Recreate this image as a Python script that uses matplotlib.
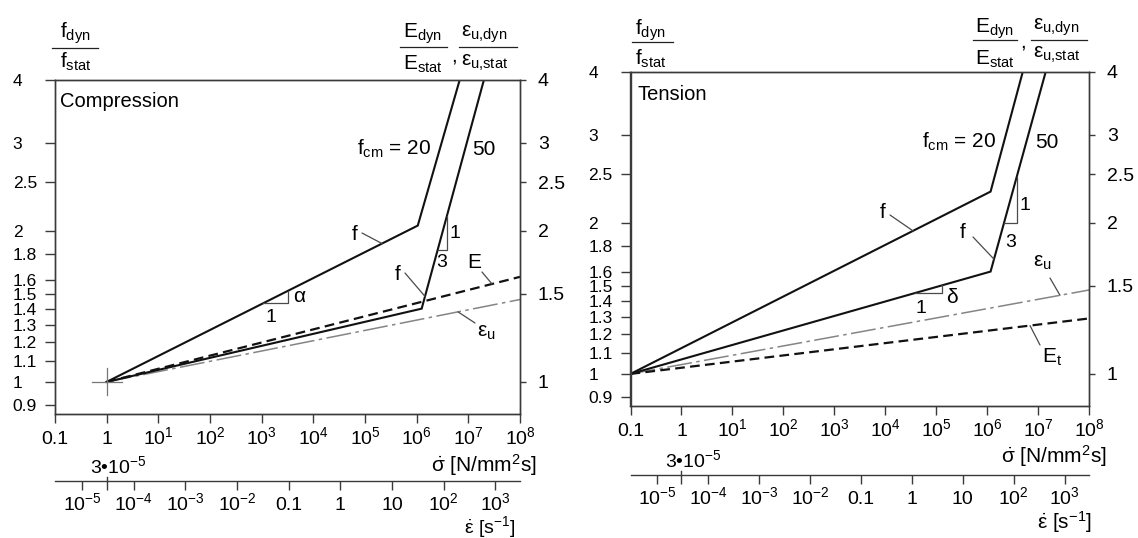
import numpy as np
import matplotlib
matplotlib.use("Agg")
import matplotlib.pyplot as plt
from matplotlib.ticker import FixedLocator, FixedFormatter, NullLocator
from matplotlib.transforms import blended_transform_factory

plt.rcParams['font.family'] = ['Liberation Sans', 'DejaVu Sans']
plt.rcParams['mathtext.fontset'] = 'custom'
plt.rcParams['mathtext.rm'] = 'Liberation Sans'
plt.rcParams['mathtext.it'] = 'Liberation Sans'
plt.rcParams['mathtext.bf'] = 'Liberation Sans:bold'
plt.rcParams['mathtext.sf'] = 'Liberation Sans'
plt.rcParams['lines.scale_dashes'] = False

# ---------------- data ----------------
stress_ticks = [1e-1, 1e0, 1e1, 1e2, 1e3, 1e4, 1e5, 1e6, 1e7, 1e8]
stress_labels = ['0.1', '1', '$10^{1}$', '$10^{2}$', '$10^{3}$', '$10^{4}$',
                 '$10^{5}$', '$10^{6}$', '$10^{7}$', '$10^{8}$']
strain_ticks = [1e-5, 1e-4, 1e-3, 1e-2, 1e-1, 1e0, 1e1, 1e2, 1e3]
strain_labels = ['$10^{-5}$', '$10^{-4}$', '$10^{-3}$', '$10^{-2}$', '0.1', '1', '10',
                 '$10^{2}$', '$10^{3}$']
strain_per_stress = 3e-5
f_ticks = [0.9, 1, 1.1, 1.2, 1.3, 1.4, 1.5, 1.6, 1.8, 2, 2.5, 3, 4]
f_labels = ['0.9', '1', '1.1', '1.2', '1.3', '1.4', '1.5', '1.6', '1.8', '2', '2.5', '3', '4']
ratio_ticks = [1, 1.5, 2, 2.5, 3, 4]
ratio_labels = ['1', '1.5', '2', '2.5', '3', '4']
stress_range = [0.1, 1e8]
ratio_range = [0.863, 4]

# Compression
comp_f20_x = [1, 1.05e6, 6.8e6]
comp_f20_y = [1, 2.05, 4]
comp_f50_x = [1, 1.25e6, 2.0e7]
comp_f50_y = [1, 1.40, 4]
comp_E_x = [1, 1e8]
comp_E_y = [1, 1.62]
comp_eu_x = [1, 1e8]
comp_eu_y = [1, 1.46]

# Tension
ten_f20_x = [0.1, 1.17e6, 5.0e6]
ten_f20_y = [1, 2.31, 4]
ten_f50_x = [0.1, 1.17e6, 1.41e7]
ten_f50_y = [1, 1.60, 4]
ten_Et_x = [0.1, 1e8]
ten_Et_y = [1, 1.29]
ten_eu_x = [0.1, 1e8]
ten_eu_y = [1, 1.47]

# ---------------- figure ----------------
W, H, DPI = 1138, 538, 100
fig = plt.figure(figsize=(W / DPI, H / DPI), dpi=DPI)
fig.patch.set_facecolor('white')

SP = '#3a3a3a'     # axis lines
THIN = '#4a4a4a'   # leader lines
TICK_FS = 14
YTICK_FS = 12.5
ANN_FS = 15


def ftext(x, y, s, ha='left', fs=ANN_FS, **kw):
    fig.text(x / W, 1 - y / H, s, ha=ha, va='baseline', fontsize=fs, color='black', **kw)


def fline(x0, y0, x1, y1, lw=0.9, color='#222222'):
    fig.add_artist(plt.Line2D([x0 / W, x1 / W], [1 - y0 / H, 1 - y1 / H],
                              transform=fig.transFigure, lw=lw, color=color))


def on_line(xs, ys, x):
    return 10 ** np.interp(np.log10(x), np.log10(xs), np.log10(ys))


def make_panel(l, r, t, b, strain_y):
    ax = fig.add_axes([l / W, 1 - b / H, (r - l) / W, (b - t) / H])
    ax.set_xscale('log')
    ax.set_yscale('log')
    ax.set_xlim(*stress_range)
    ax.set_ylim(*ratio_range)
    ax.patch.set_alpha(0)
    ax.xaxis.set_major_locator(FixedLocator(stress_ticks))
    ax.xaxis.set_major_formatter(FixedFormatter(stress_labels))
    ax.xaxis.set_minor_locator(NullLocator())
    ax.yaxis.set_major_locator(FixedLocator(f_ticks))
    ax.yaxis.set_major_formatter(FixedFormatter(f_labels))
    ax.yaxis.set_minor_locator(NullLocator())
    ax.tick_params(axis='x', direction='out', length=6.5, width=1.0, color=SP,
                   pad=15, labelsize=TICK_FS)
    ax.tick_params(axis='y', direction='out', length=7.5, width=1.0, color=SP,
                   pad=23, labelsize=YTICK_FS)
    plt.setp(ax.get_xticklabels(), va='baseline')
    plt.setp(ax.get_yticklabels(), ha='left')
    for s in ax.spines.values():
        s.set_color(SP)
        s.set_linewidth(1.0)

    axr = ax.twinx()
    axr.set_yscale('log')
    axr.set_ylim(*ratio_range)
    axr.yaxis.set_major_locator(FixedLocator(ratio_ticks))
    axr.yaxis.set_major_formatter(FixedFormatter(ratio_labels))
    axr.yaxis.set_minor_locator(NullLocator())
    axr.tick_params(axis='y', direction='out', length=4.3, width=1.0, color=SP,
                    pad=8.6, labelsize=TICK_FS)
    for s in axr.spines.values():
        s.set_color(SP)
        s.set_linewidth(1.0)

    # secondary strain-rate axis
    hpx = 10
    axs = fig.add_axes([l / W, 1 - strain_y / H, (r - l) / W, hpx / H])
    axs.set_xscale('log')
    axs.set_xlim(stress_range[0] * strain_per_stress, stress_range[1] * strain_per_stress)
    axs.patch.set_alpha(0)
    for k in ['top', 'left', 'right']:
        axs.spines[k].set_visible(False)
    axs.spines['bottom'].set_color(SP)
    axs.spines['bottom'].set_linewidth(1.0)
    axs.set_yticks([])
    axs.xaxis.set_major_locator(FixedLocator(strain_ticks))
    axs.xaxis.set_major_formatter(FixedFormatter(strain_labels))
    axs.xaxis.set_minor_locator(FixedLocator([strain_per_stress]))
    axs.tick_params(axis='x', which='major', direction='out', length=6.5, width=1.0,
                    color=SP, pad=14.5, labelsize=TICK_FS)
    axs.tick_params(axis='x', which='minor', direction='out', length=6.5, width=1.0,
                    color=SP)
    plt.setp(axs.get_xticklabels(), va='baseline')
    tr = blended_transform_factory(axs.transData, axs.transAxes)
    axs.plot([strain_per_stress, strain_per_stress], [0, 4.0 / hpx], transform=tr,
             color=SP, lw=1.0, clip_on=False)
    return ax


def leader(ax, text_px, xs, ys, x_px):
    xd = ax.transData.inverted().transform((x_px, 0))[0]
    yd = on_line(xs, ys, xd)
    ax.annotate('', xy=(xd, yd), xycoords='data',
                xytext=(text_px[0], H - text_px[1]), textcoords='figure pixels',
                arrowprops=dict(arrowstyle='-', lw=0.9, color=THIN,
                                shrinkA=0, shrinkB=0))


def slope_tri(ax, xs, ys, lx0, lx1):
    x0, x1 = 10 ** lx0, 10 ** lx1
    y0 = on_line(xs, ys, x0)
    y1 = on_line(xs, ys, x1)
    ax.plot([x0, x1, x1], [y0, y0, y1], color=THIN, lw=0.9)


def draw_lines(ax, f20, f50, dash, dashdot):
    ax.plot(dashdot[0], dashdot[1], color='#858585', lw=1.1,
            dashes=(18, 3.2, 2.5, 3.2), solid_capstyle='butt')
    ax.plot(dash[0], dash[1], color='#111111', lw=1.6, dashes=(7, 3.8))
    ax.plot(f20[0], f20[1], color='#111111', lw=1.5, solid_joinstyle='miter')
    ax.plot(f50[0], f50[1], color='#111111', lw=1.5, solid_joinstyle='miter')


# ---------------- Compression panel ----------------
axc = make_panel(55, 520, 80, 414, 481)
draw_lines(axc, (comp_f20_x, comp_f20_y), (comp_f50_x, comp_f50_y),
           (comp_E_x, comp_E_y), (comp_eu_x, comp_eu_y))
# origin cross
axc.plot([0.51, 1.95], [1, 1], color='#777777', lw=0.9)
axc.plot([1, 1], [0.942, 1.066], color='#777777', lw=0.9)

slope_tri(axc, comp_f20_x, comp_f20_y, 3.03, 3.51)
slope_tri(axc, comp_f50_x, comp_f50_y, 6.406, 6.587)
leader(axc, (362, 233), comp_f20_x, comp_f20_y, 382)
leader(axc, (405, 273), comp_f50_x, comp_f50_y, 425)
leader(axc, (482, 272), comp_E_x, comp_E_y, 492)
leader(axc, (475, 323), comp_eu_x, comp_eu_y, 458)

ftext(60, 107, 'Compression', fs=14.5)
ftext(357, 155, 'f$_{\\mathrm{cm}}$ = 20')
ftext(472, 155, '50')
ftext(355, 240, 'f', ha='center')
ftext(398, 280, 'f', ha='center')
ftext(474, 268, 'E', ha='center')
ftext(477, 337, 'ε$_{\\mathrm{u}}$')
ftext(299, 302, 'α', ha='center')
ftext(271, 322, '1', ha='center', fs=14)
ftext(455, 238, '1', ha='center', fs=14)
ftext(442, 267, '3', ha='center', fs=14)

ftext(60, 38, 'f$_{\\mathrm{dyn}}$')
fline(52, 48, 98, 48)
ftext(60, 68, 'f$_{\\mathrm{stat}}$')
ftext(403, 38, 'E$_{\\mathrm{dyn}}$')
fline(400, 47, 447, 47)
ftext(403, 70, 'E$_{\\mathrm{stat}}$')
ftext(451, 62, ',')
ftext(461, 37, 'ε$_{\\mathrm{u{,}dyn}}$')
fline(459, 47, 517, 47)
ftext(461, 66, 'ε$_{\\mathrm{u{,}stat}}$')

ftext(537, 472, '$\\dot{\\sigma}$ [N/mm$^{2}$s]', ha='right')
ftext(516, 533, '$\\dot{\\varepsilon}$ [s$^{-1}$]', ha='right', fs=14)
ftext(90, 473, '3•10$^{-5}$', fs=14)

# ---------------- Tension panel ----------------
axt = make_panel(630.5, 1089, 72, 406, 474.5)
draw_lines(axt, (ten_f20_x, ten_f20_y), (ten_f50_x, ten_f50_y),
           (ten_Et_x, ten_Et_y), (ten_eu_x, ten_eu_y))

slope_tri(axt, ten_f50_x, ten_f50_y, 4.58, 5.11)
slope_tri(axt, ten_f50_x, ten_f50_y, 6.33, 6.58)
leader(axt, (890, 215), ten_f20_x, ten_f20_y, 913)
leader(axt, (973, 237), ten_f50_x, ten_f50_y, 994)
leader(axt, (1050, 278), ten_eu_x, ten_eu_y, 1060)
leader(axt, (1040, 345), ten_Et_x, ten_Et_y, 1030)

ftext(638, 100, 'Tension', fs=14.5)
ftext(922, 148, 'f$_{\\mathrm{cm}}$ = 20')
ftext(1035, 148, '50')
ftext(883, 218, 'f', ha='center')
ftext(963, 238, 'f', ha='center')
ftext(1033, 267, 'ε$_{\\mathrm{u}}$')
ftext(1042, 363, 'E$_{\\mathrm{t}}$')
ftext(952, 303, 'δ', ha='center')
ftext(921, 313, '1', ha='center', fs=14)
ftext(1025, 210, '1', ha='center', fs=14)
ftext(1011, 247, '3', ha='center', fs=14)

ftext(635, 35, 'f$_{\\mathrm{dyn}}$')
fline(632, 42, 673, 42)
ftext(635, 65, 'f$_{\\mathrm{stat}}$')
ftext(975, 33, 'E$_{\\mathrm{dyn}}$')
fline(973, 40, 1017, 40)
ftext(975, 65, 'E$_{\\mathrm{stat}}$')
ftext(1020, 47, ',')
ftext(1033, 30, 'ε$_{\\mathrm{u{,}dyn}}$')
fline(1031, 40, 1087, 40)
ftext(1033, 58, 'ε$_{\\mathrm{u{,}stat}}$')

ftext(1107, 463, '$\\dot{\\sigma}$ [N/mm$^{2}$s]', ha='right')
ftext(1092, 529, '$\\dot{\\varepsilon}$ [s$^{-1}$]', ha='right')
ftext(665, 467, '3•10$^{-5}$', fs=14)

fig.savefig('out.png', dpi=DPI, facecolor='white')
